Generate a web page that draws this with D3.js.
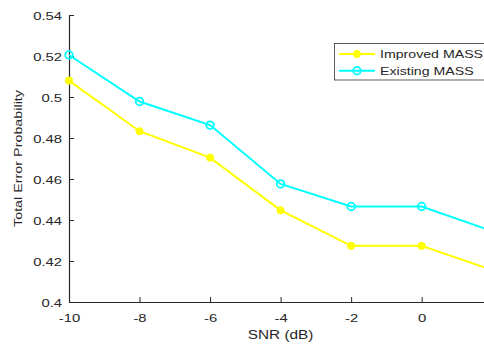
<!DOCTYPE html>
<html>
<head>
<meta charset="utf-8">
<script src="https://cdn.jsdelivr.net/npm/d3@7"></script>
<style>
  html, body { margin: 0; padding: 0; background: #fff; }
  svg { display: block; }
  text { font-family: "Liberation Sans", Arial, sans-serif; fill: #262626; }
</style>
</head>
<body>
<svg id="chart" width="484" height="345"></svg>
<script>
// ---- data ----
const snr = [-10, -8, -6, -4, -2, 0, 2];
const improvedMASS = [0.508, 0.4833, 0.4704, 0.4447, 0.4274, 0.4274, 0.4156];
const existingMASS = [0.5205, 0.4978, 0.4863, 0.4576, 0.4466, 0.4466, 0.4346];
const xTicks = [-10, -8, -6, -4, -2, 0];
const yTicks = [0.4, 0.42, 0.44, 0.46, 0.48, 0.5, 0.52, 0.54];
const yTickLabels = ["0.4", "0.42", "0.44", "0.46", "0.48", "0.5", "0.52", "0.54"];
const seriesNames = ["Improved MASS", "Existing MASS"];
const seriesColors = ["#FFFF00", "#00FFFF"];

// ---- layout ----
const svg = d3.select("#chart");
const mLeft = 69, mRight = 492.2, mTop = 15, mBottom = 302;
const sx = 1.28; // horizontal text widening to match the reference font
const axisColor = "#262626";

const x = d3.scaleLinear().domain([-10, 2]).range([mLeft, mRight]);
const y = d3.scaleLinear().domain([0.4, 0.54]).range([mBottom, mTop]);

// x axis
const xAxis = svg.append("g")
  .attr("transform", `translate(0,${mBottom})`)
  .call(d3.axisBottom(x).tickValues(xTicks).tickSize(-5).tickSizeOuter(0).tickFormat(d3.format("d")));
xAxis.select(".domain").attr("stroke", axisColor).attr("stroke-width", 1.2);
xAxis.selectAll(".tick line").attr("stroke", axisColor).attr("stroke-width", 1);
xAxis.selectAll(".tick text")
  .attr("y", 20.5).attr("dy", null)
  .attr("transform", `scale(${sx},1)`)
  .style("font-size", "11.6px").style("font-family", "Liberation Sans, Arial, sans-serif")
  .attr("fill", axisColor)
  .text(d => d < 0 ? "-" + Math.abs(d) : String(d));

// y axis
const yAxis = svg.append("g")
  .attr("transform", `translate(${mLeft},0)`)
  .call(d3.axisLeft(y).tickValues(yTicks).tickSize(-5).tickSizeOuter(0)
        .tickFormat((d, i) => yTickLabels[i]));
yAxis.select(".domain").attr("stroke", axisColor).attr("stroke-width", 1.2);
yAxis.selectAll(".tick line").attr("stroke", axisColor).attr("stroke-width", 1);
yAxis.selectAll(".tick text")
  .attr("x", -7 / sx).attr("dy", "0.36em")
  .attr("transform", `scale(${sx},1)`)
  .style("font-size", "11.6px").style("font-family", "Liberation Sans, Arial, sans-serif")
  .attr("fill", axisColor);

// axis titles
svg.append("text")
  .attr("transform", `translate(${(mLeft + mRight) / 2},339) scale(${sx},1)`)
  .attr("text-anchor", "middle")
  .style("font-size", "12px")
  .text("SNR (dB)");
svg.append("text")
  .attr("transform", `translate(22,${(mTop + mBottom) / 2}) rotate(-90) scale(${sx},1)`)
  .attr("text-anchor", "middle")
  .style("font-size", "11.2px")
  .text("Total Error Probability");

// series
const line = d3.line().x((d, i) => x(snr[i])).y(d => y(d));
const allSeries = [improvedMASS, existingMASS];
allSeries.forEach((vals, k) => {
  svg.append("path").datum(vals)
    .attr("d", line)
    .attr("fill", "none")
    .attr("stroke", seriesColors[k])
    .attr("stroke-width", 2);
  svg.append("g").selectAll("circle").data(vals).join("circle")
    .attr("cx", (d, i) => x(snr[i]))
    .attr("cy", d => y(d))
    .attr("r", k === 0 ? 3.6 : 3.8)
    .attr("fill", k === 0 ? seriesColors[k] : "none")
    .attr("stroke", seriesColors[k])
    .attr("stroke-width", k === 0 ? 1 : 1.8);
});

// legend
const lg = svg.append("g");
lg.append("rect")
  .attr("x", 334.5).attr("y", 43.5).attr("width", 160).attr("height", 36.5)
  .attr("fill", "#fff").attr("stroke", "#333").attr("stroke-width", 0.8);
seriesNames.forEach((name, k) => {
  const cy = 54 + k * 16.7;
  lg.append("line").attr("x1", 339).attr("x2", 375).attr("y1", cy).attr("y2", cy)
    .attr("stroke", seriesColors[k]).attr("stroke-width", 2);
  lg.append("circle").attr("cx", 357).attr("cy", cy).attr("r", k === 0 ? 3.6 : 3.8)
    .attr("fill", k === 0 ? seriesColors[k] : "none")
    .attr("stroke", seriesColors[k]).attr("stroke-width", k === 0 ? 1 : 1.8);
  lg.append("text")
    .attr("transform", `translate(380,${cy + 4}) scale(1.3,1)`)
    .style("font-size", "10.9px")
    .text(name);
});
</script>
</body>
</html>
